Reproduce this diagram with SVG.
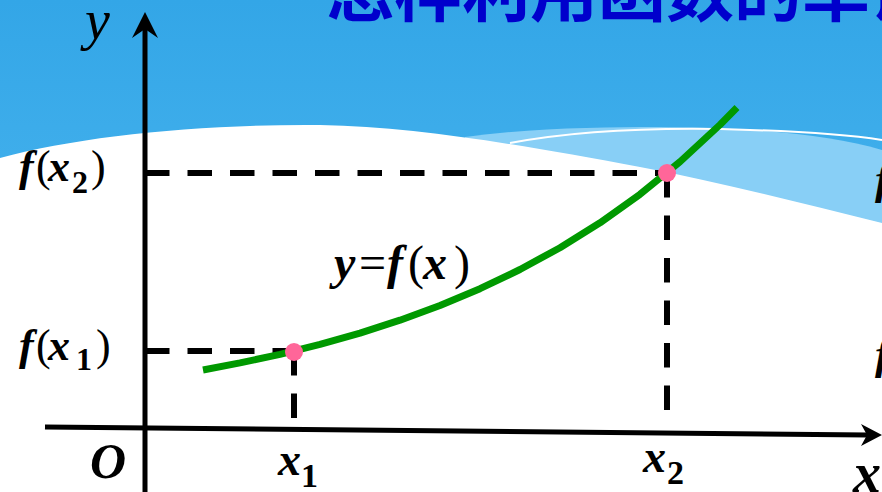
<svg xmlns="http://www.w3.org/2000/svg" width="882" height="492" viewBox="0 0 882 492">
<defs>
<linearGradient id="sky" x1="0" y1="0" x2="0" y2="1">
<stop offset="0" stop-color="#33A6E7"/>
<stop offset="1" stop-color="#56BDF3"/>
</linearGradient>
<style>
.ax{stroke:#000;stroke-width:5;fill:none}
.dash{stroke:#000;stroke-width:6;fill:none;stroke-dasharray:24.5 18}
.lbl{font-family:'Liberation Serif','Times New Roman',serif;font-style:italic;font-weight:bold;fill:#000}
.up{font-style:normal;font-weight:normal}
.sub{font-style:normal;font-weight:bold}
.dot{fill:#FF6699}
.title{font-family:'Noto Sans CJK SC',sans-serif;font-weight:bold;font-size:68px;fill:#0000CC}
</style>
</defs>
<g id="background">
<rect x="0" y="0" width="882" height="492" fill="url(#sky)"/>
<path d="M465,137 C530,128 600,127 660,127 C760,128 830,135 882,150 L882,260 L465,260 Z" fill="#88CFF6"/>
<path d="M510,143 C580,130 660,128 720,129 C800,131 850,135 882,140" fill="none" stroke="#fff" stroke-width="2"/>
<path d="M0,158 C80,136 200,124 320,125 C420,127 520,145 640,167 C720,182 800,203 882,223 L882,492 L0,492 Z" fill="#fff"/>
<text class="title" x="326" y="16">怎样利用函数的单调性</text>
</g>
<g id="axes">
<line class="ax" x1="145" y1="492" x2="145" y2="26"/>
<polygon points="145,12 158,38 145,29 132,38" fill="#000"/>
<line class="ax" x1="45" y1="427" x2="868" y2="435"/>
<polygon points="882,435 861,424 867,435 861,446" fill="#000"/>
</g>
<g id="connectors">
<path class="dash" d="M145,173 H667"/>
<path class="dash" d="M667,173 V428"/>
<path class="dash" d="M145,351 H294"/>
<path class="dash" d="M294,351 V428"/>
</g>
<g id="curve">
<path d="M203,370 L240,362.9 L280,354.3 L320,344.4 L360,333.1 L400,320.2 L440,305.5 L480,288.7 L520,269.5 L560,247.7 L600,222.8 L640,194.3 L680,161.8 L720,124.8 L737,107.5" fill="none" stroke="#009900" stroke-width="7" stroke-linejoin="round"/>
</g>
<g id="point-1"><circle class="dot" cx="294" cy="352" r="9"/></g>
<g id="point-2"><circle class="dot" cx="667" cy="173" r="9"/></g>
<g id="labels">
<text class="lbl" x="85" y="39" font-size="56" style="font-weight:normal">y</text>
<text class="lbl" font-size="44"><tspan x="19" y="181">f</tspan><tspan class="up" x="36" y="181">(</tspan><tspan x="48" y="181">x</tspan><tspan class="sub" x="72" y="193" font-size="32">2</tspan><tspan class="up" x="91" y="181">)</tspan></text>
<text class="lbl" font-size="44"><tspan x="19" y="360">f</tspan><tspan class="up" x="36" y="360">(</tspan><tspan x="48" y="360">x</tspan><tspan class="sub" x="76" y="370" font-size="32">1</tspan><tspan class="up" x="96" y="360">)</tspan></text>
<text class="lbl" font-size="48"><tspan x="334" y="279">y</tspan><tspan class="up" x="359" y="279">=</tspan><tspan x="387" y="279">f</tspan><tspan class="up" x="408" y="279">(</tspan><tspan x="423" y="279">x</tspan><tspan class="up" x="454" y="279">)</tspan></text>
<text class="lbl" x="90" y="478" font-size="50">O</text>
<text class="lbl" font-size="46"><tspan x="278" y="475">x</tspan><tspan class="sub" x="301" y="487" font-size="34">1</tspan></text>
<text class="lbl" font-size="46"><tspan x="643" y="472">x</tspan><tspan class="sub" x="667" y="484" font-size="34">2</tspan></text>
<text class="lbl" x="853" y="492" font-size="56">x</text>
<text class="lbl" x="875" y="194" font-size="44">f</text>
<text class="lbl" x="875" y="369" font-size="44">f</text>
</g>
</svg>
